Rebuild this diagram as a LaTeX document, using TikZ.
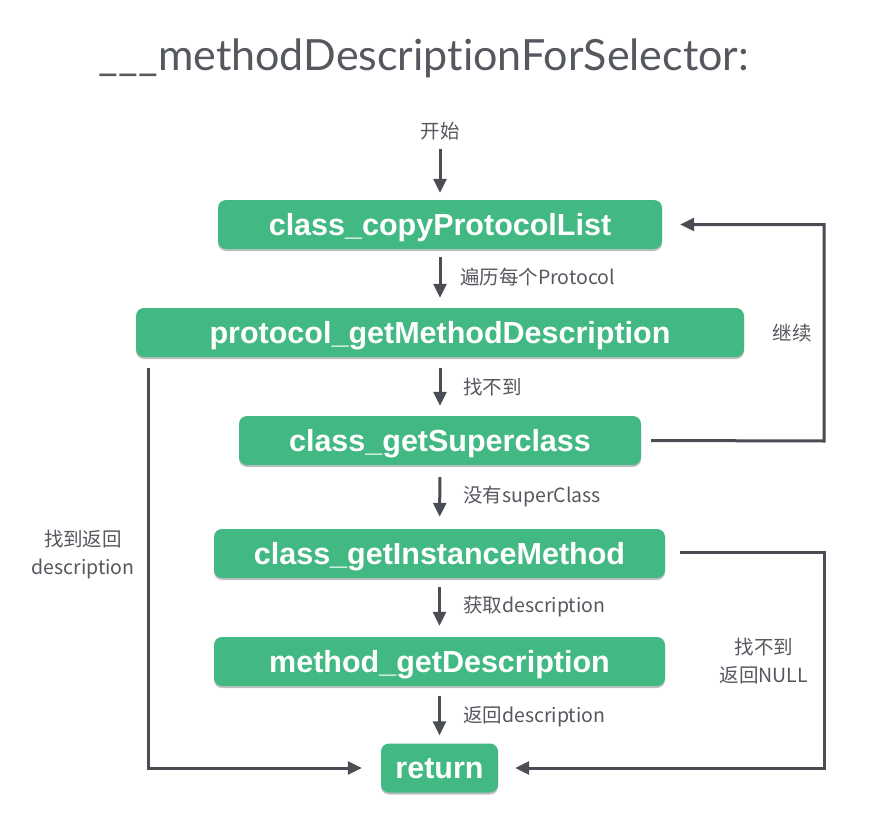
\documentclass[tikz,border=0pt]{standalone}
\usepackage{fontspec}
\setmainfont{Liberation Sans}
\newfontfamily\cjkfont{Noto Sans CJK SC}
\newfontfamily\titlefont{Lato}[Ligatures=NoCommon]
\usetikzlibrary{shadows,arrows.meta}
\definecolor{boxgreen}{RGB}{66,184,131}
\definecolor{linegray}{RGB}{74,78,84}
\definecolor{textgray}{RGB}{85,88,94}
\tikzset{
  box/.style={rectangle, rounded corners=8pt, fill=boxgreen, text=white,
    font=\fontsize{30.5}{33}\selectfont\bfseries, minimum height=49pt, inner xsep=0pt,
    inner ysep=0pt, text height=24pt, text depth=3pt,
    drop shadow={shadow xshift=0pt, shadow yshift=-2pt, opacity=0.25, fill=black}},
  lbl/.style={text=textgray, font=\cjkfont\fontsize{19.5}{28}\selectfont, inner sep=0pt},
  conn/.style={draw=linegray, line width=3pt},
  arr/.style={conn, -{Triangle[length=14pt,width=13pt]}},
}
\begin{document}
\begin{tikzpicture}[x=1pt,y=-1pt]
\useasboundingbox[fill=white] (0,0) rectangle (871,838);
\node[text=textgray, font=\titlefont\fontsize{43}{46}\selectfont, anchor=base, inner sep=0pt] (title) at (424,70) {\_\_\_methodDescriptionForSelector:};

\node[box, minimum width=444pt] (copy) at (440,224.5) {class\_copyProtocolList};
\node[box, minimum width=608pt] (proto) at (440,332.5) {protocol\_getMethodDescription};
\node[box, minimum width=402pt] (sup) at (440,440.5) {class\_getSuperclass};
\node[box, minimum width=451pt] (inst) at (439.5,553.5) {class\_getInstanceMethod};
\node[box, minimum width=451pt] (meth) at (439.5,661.5) {method\_getDescription};
\node[box, minimum width=117pt] (ret) at (439.5,768) {return};

\node[lbl] (start) at (440,131) {开始};
\draw[arr, shorten <=9pt, shorten >=7pt] (start) -- (copy);
\draw[arr, shorten <=8pt, shorten >=10pt] (copy) -- (proto);
\draw[arr, shorten <=11pt, shorten >=10pt] (proto) -- (sup);
\draw[arr, shorten <=12pt, shorten >=12pt] (sup) -- (inst);
\draw[arr, shorten <=9pt, shorten >=11pt] (inst) -- (meth);
\draw[arr, shorten <=10pt, shorten >=8pt] (meth) -- (ret);

\node[lbl, anchor=west] (l1) at (460,277) {遍历每个Protocol};
\node[lbl, anchor=west] (l2) at (463,387) {找不到};
\node[lbl, anchor=west] (l3) at (463,497) {没有superClass};
\node[lbl, anchor=west] (l4) at (463,607) {获取description};
\node[lbl, anchor=west] (l5) at (463,717) {返回description};

% continue loop
\coordinate (cR) at (824,441);
\draw[arr] ([xshift=10pt]sup.east) -- (cR) |- ([xshift=18pt]copy.east);
\node[lbl] (lcont) at (792,333) {继续};

% not found NULL
\coordinate (nR) at (824,552);
\draw[arr] ([xshift=15pt]inst.east |- nR) -- (nR) |- ([xshift=17pt]ret.east);
\node[lbl, align=center] (lnull) at (764,661) {找不到\\返回NULL};

% found description
\coordinate (fL) at (148,368);
\draw[arr] (fL) |- ([xshift=-19pt]ret.west);
\node[lbl, align=center] (lfound) at (83,555) {找到返回\\description};
\end{tikzpicture}
\end{document}
